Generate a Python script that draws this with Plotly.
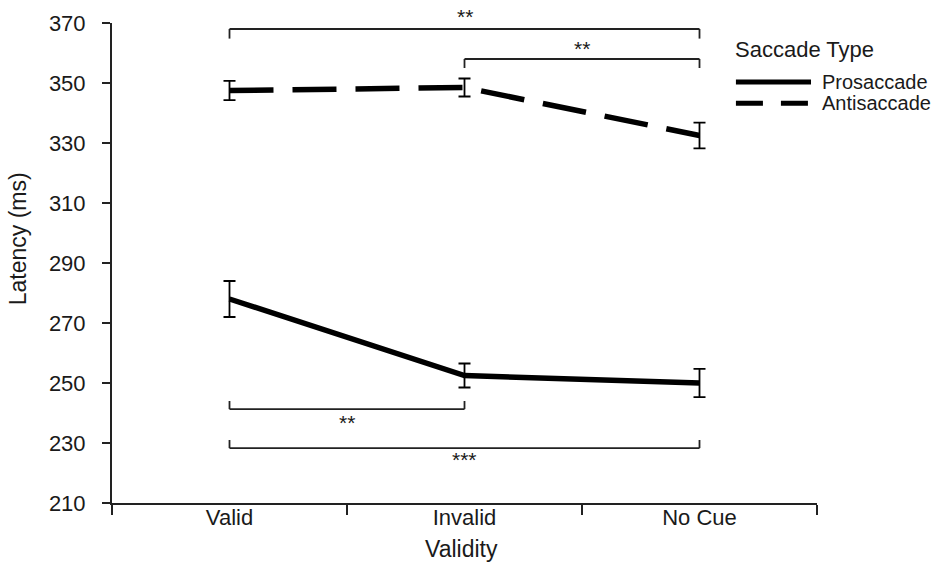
import plotly.graph_objects as go

categories = ["Valid", "Invalid", "No Cue"]
pro_mean = [278.0, 252.5, 250.0]
pro_err = [6.0, 4.0, 4.7]
anti_mean = [347.5, 348.5, 332.5]
anti_err = [3.2, 3.0, 4.3]
series_names = ["Prosaccade", "Antisaccade"]
legend_title = "Saccade Type"

# significance brackets: (start category, end category, bracket y, tick end y, label, label y)
br_start = ["Valid", "Invalid", "Valid", "Valid"]
br_end = ["No Cue", "No Cue", "Invalid", "No Cue"]
br_y = [368.0, 358.0, 241.3, 228.3]
br_tip = [364.8, 355.0, 244.0, 231.0]
br_label = ["**", "**", "**", "***"]
br_label_y = [372.3, 361.4, 237.0, 224.4]

y_min, y_max = 210, 370
y_ticks = [210, 230, 250, 270, 290, 310, 330, 350, 370]

FONT = "Liberation Sans, Arial, sans-serif"
TXT = "#1a1a1a"

fig = go.Figure()
fig.add_trace(go.Scatter(
    x=categories, y=pro_mean, mode="lines", name=series_names[0],
    line=dict(color="black", width=5.5),
    error_y=dict(type="data", array=pro_err, color="black", thickness=1.8, width=6),
    showlegend=False,
))
fig.add_trace(go.Scatter(
    x=categories, y=anti_mean, mode="lines", name=series_names[1],
    line=dict(color="black", width=5.5, dash="44px,19px"),
    error_y=dict(type="data", array=anti_err, color="black", thickness=1.8, width=6),
    showlegend=False,
))

shapes = []
annotations = []
for s, e, y, tip, lab, ly in zip(br_start, br_end, br_y, br_tip, br_label, br_label_y):
    for seg in [(s, tip, s, y), (s, y, e, y), (e, y, e, tip)]:
        shapes.append(dict(type="line", xref="x", yref="y",
                           x0=seg[0], y0=seg[1], x1=seg[2], y1=seg[3],
                           line=dict(color="#222", width=1.8)))
    si = categories.index(s)
    ei = categories.index(e)
    mid = (si + ei) / 2
    annotations.append(dict(x=mid, y=(ly - y_min) / (y_max - y_min), xref="x", yref="y domain",
                            text=lab, showarrow=False, xanchor="center", yanchor="middle",
                            font=dict(family=FONT, size=21, color=TXT)))

# manual legend
annotations.append(dict(x=0.881, y=0.944, xref="paper", yref="paper", text=legend_title,
                        xanchor="left", yanchor="middle", showarrow=False,
                        font=dict(family=FONT, size=22, color=TXT)))
leg_y = [0.877, 0.833]
leg_dash = ["solid", "27px,18px"]
for name, ly, dsh in zip(series_names, leg_y, leg_dash):
    shapes.append(dict(type="line", xref="paper", yref="paper", x0=0.885, x1=0.9915,
                       y0=ly, y1=ly, line=dict(color="black", width=5, dash=dsh)))
    annotations.append(dict(x=1.0045, y=ly, xref="paper", yref="paper", text=name,
                            xanchor="left", yanchor="middle", showarrow=False,
                            font=dict(family=FONT, size=20, color=TXT)))

# axis titles
annotations.append(dict(x=-0.133, y=0.55, xref="paper", yref="paper", text="Latency (ms)",
                        textangle=-90, showarrow=False, xanchor="center", yanchor="middle",
                        font=dict(family=FONT, size=23, color=TXT)))
annotations.append(dict(x=0.496, y=-0.096, xref="paper", yref="paper", text="Validity",
                        showarrow=False, xanchor="center", yanchor="middle",
                        font=dict(family=FONT, size=23, color=TXT)))

fig.update_layout(
    width=950, height=569,
    margin=dict(l=112, r=133, t=23, b=66),
    paper_bgcolor="white", plot_bgcolor="white",
    shapes=shapes, annotations=annotations,
    font=dict(family=FONT, color=TXT),
    xaxis=dict(type="category", categoryorder="array", categoryarray=categories,
               range=[-0.5, 2.5], showline=True, linecolor="#222", linewidth=2,
               ticks="outside", tickson="boundaries", ticklen=10, tickwidth=2, tickcolor="#222",
               showgrid=False, zeroline=False, ticklabelstandoff=-6,
               tickfont=dict(family=FONT, size=22, color=TXT)),
    yaxis=dict(range=[y_min, y_max], tickvals=y_ticks, showline=True, linecolor="#222", linewidth=2,
               ticks="outside", ticklen=8, tickwidth=2, tickcolor="#222",
               showgrid=False, zeroline=False, ticklabelstandoff=12,
               tickfont=dict(family=FONT, size=22, color=TXT)),
)

fig.write_html("out.html")
